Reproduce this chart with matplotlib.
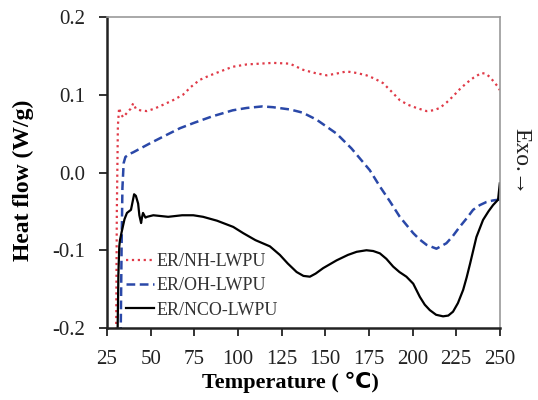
import numpy as np
import matplotlib
matplotlib.use('Agg')
import matplotlib.pyplot as plt

plt.rcParams['font.family'] = ['Liberation Serif', 'DejaVu Sans']
plt.rcParams.update({'font.size': 13})

# DSC curves, temperature in C and heat flow in W/g
t_nh = [30.2, 30.6, 31.2, 31.9, 33.0, 34.2, 36.5, 38.5, 40.0, 41.5, 44.0, 47.7,
        52.0, 57.0, 62.8, 68.5, 73.0, 78.0, 83.0, 88.7, 97.0, 105.0, 112.6, 120.0, 129.7,
        137.4, 144.0, 150.8, 156.0, 162.2, 168.0, 173.6, 178.0, 183.1, 188.0, 192.7, 197.5,
        202.3, 208.0, 212.0, 215.6, 219.5, 223.2, 227.0, 230.9, 235.0, 239.5, 242.0, 244.2,
        246.5, 249.0, 250.0]
q_nh = [-0.21, -0.05, 0.06, 0.083, 0.075, 0.071, 0.077, 0.082, 0.089, 0.082, 0.080, 0.079,
        0.082, 0.087, 0.093, 0.100, 0.110, 0.119, 0.124, 0.129, 0.136, 0.139, 0.140, 0.141, 0.140,
        0.132, 0.128, 0.125, 0.127, 0.130, 0.128, 0.125, 0.121, 0.115, 0.104, 0.093, 0.087,
        0.083, 0.079, 0.080, 0.083, 0.090, 0.098, 0.107, 0.115, 0.122, 0.128, 0.127, 0.123,
        0.117, 0.110, 0.106]

t_oh = [32.8, 33.3, 33.8, 34.5, 35.5, 38.0, 40.0, 45.0, 50.0, 57.0, 66.8, 75.0, 85.0,
        97.0, 105.0, 114.0, 120.0, 130.0, 137.0, 145.0, 156.5, 165.0, 175.5, 181.3, 187.0,
        192.7, 200.4, 204.0, 208.0, 213.7, 219.4, 223.0, 227.0, 231.0, 234.7, 238.5, 242.3,
        246.0, 249.0, 250.0]
q_oh = [-0.21, -0.10, -0.02, 0.012, 0.020, 0.024, 0.026, 0.032, 0.038, 0.046, 0.057, 0.064,
        0.072, 0.080, 0.083, 0.085, 0.084, 0.081, 0.077, 0.068, 0.050, 0.031, 0.003, -0.018,
        -0.037, -0.057, -0.078, -0.086, -0.093, -0.098, -0.091, -0.082, -0.070, -0.059,
        -0.048, -0.042, -0.038, -0.036, -0.035, -0.035]

t_nco = [31.0, 31.5, 32.0, 32.4, 33.5, 35.0, 36.4, 38.7, 40.5, 41.5, 42.8, 43.5, 44.5,
         45.0, 45.6, 47.0, 47.9, 51.5, 60.0, 68.0, 74.4, 80.0, 88.0, 97.3, 103.0, 110.0,
         118.3, 124.0, 128.5, 133.6, 137.5, 141.2, 144.5, 148.8, 156.5, 163.0, 168.0, 173.6,
         177.5, 181.3, 185.0, 188.9, 192.5, 196.5, 200.4, 204.2, 207.0, 209.9, 213.5, 217.5,
         220.5, 223.2, 226.0, 229.0, 231.0, 233.0, 236.6, 240.4, 243.5, 246.1, 249.0, 250.0]
q_nco = [-0.21, -0.13, -0.095, -0.087, -0.075, -0.060, -0.052, -0.048, -0.028, -0.030, -0.040,
         -0.055, -0.065, -0.058, -0.052, -0.058, -0.057, -0.055, -0.057, -0.055, -0.055, -0.057,
         -0.062, -0.070, -0.078, -0.087, -0.095, -0.106, -0.117, -0.128, -0.133, -0.134,
         -0.130, -0.123, -0.113, -0.106, -0.102, -0.100, -0.101, -0.104, -0.111, -0.121,
         -0.128, -0.134, -0.143, -0.160, -0.170, -0.177, -0.183, -0.185, -0.184, -0.179,
         -0.168, -0.151, -0.135, -0.117, -0.083, -0.061, -0.050, -0.042, -0.035, -0.014]

labels = ['ER/NH-LWPU', 'ER/OH-LWPU', 'ER/NCO-LWPU']

fig = plt.figure(figsize=(5.38, 4.0), dpi=100)
ax = fig.add_axes([0.199, 0.18, 0.73, 0.7775])

ax.plot(t_nh, q_nh, ls=':', color='#e03a48', lw=1.6, label=labels[0])
ax.plot(t_oh, q_oh, ls='--', color='#2a48a8', lw=1.8, dashes=(3.5, 1.8), label=labels[1])
ax.plot(t_nco, q_nco, ls='-', color='black', lw=1.6, label=labels[2])

ax.set_xlim(25, 250)
ax.set_ylim(-0.2, 0.2)
ax.set_xticks(np.arange(25, 251, 25))
ax.set_yticks([-0.2, -0.1, 0.0, 0.1, 0.2])
ax.set_yticklabels(['-0.2', '-0.1', '0.0', '0.1', '0.2'])

for s in ['left', 'bottom']:
    ax.spines[s].set_linewidth(1.8)
    ax.spines[s].set_color('#222222')
for s in ['top', 'right']:
    ax.spines[s].set_linewidth(1.2)
    ax.spines[s].set_color('#999999')
ax.tick_params(direction='out', length=6, width=1.3, labelsize=15, pad=10, colors='#222222')

ax.set_xlabel('Temperature ( \u2103)', fontsize=16, fontweight='bold', va='center')
ax.xaxis.set_label_coords(0.467, -0.174)
ax.set_ylabel('Heat flow (W/g)', fontsize=17, fontweight='bold', va='center')
ax.yaxis.set_label_coords(-0.214, 0.476)

fig.text(0.968, 0.597, 'Exo.\u2192', rotation=-90, fontsize=17,
         ha='center', va='center', color='#222222')

leg = ax.legend(loc='lower left', bbox_to_anchor=(0.048, 0.03), frameon=False,
                handlelength=1.55, handletextpad=0.15, labelspacing=0.4,
                borderaxespad=0, borderpad=0, fontsize=13)
for txt in leg.get_texts():
    txt.set_color('#333333')

fig.savefig('out.png', dpi=100)
